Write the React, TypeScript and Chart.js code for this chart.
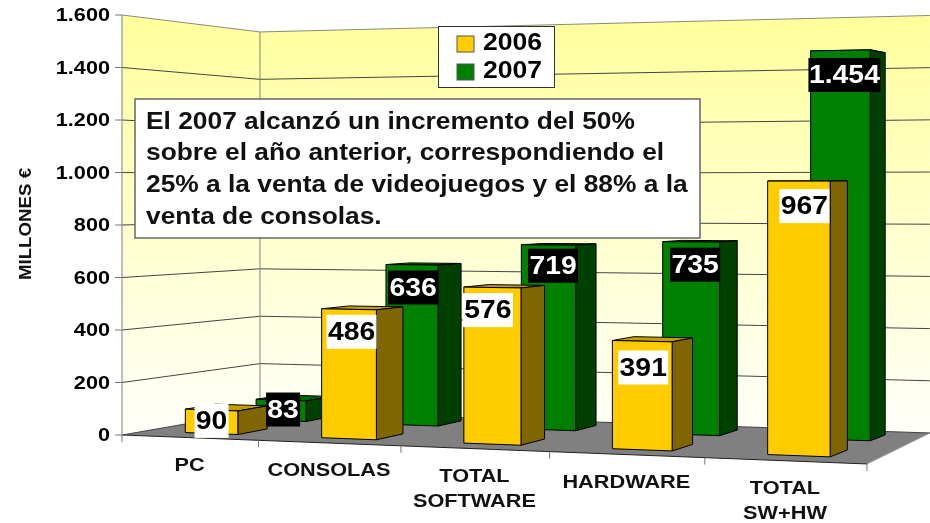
import React, { useEffect, useRef } from "react";
import { Chart, registerables } from "chart.js";

Chart.register(...registerables);

const categories: (string | string[])[] = ["PC", "CONSOLAS", ["TOTAL", "SOFTWARE"], "HARDWARE", ["TOTAL", "SW+HW"]];
const values2006 = [90, 486, 576, 391, 967];
const values2007 = [83, 636, 719, 735, 1454];
const seriesNames = ["2006", "2007"];
const axisTitle = "MILLONES €";
const noteLines = [
  "El 2007 alcanzó un incremento del 50%",
  "sobre el año anterior, correspondiendo el",
  "25% a la venta de videojuegos y el 88% a la",
  "venta de consolas.",
];
const FONT = '"Liberation Sans"';

// Hand-placed nudges of the value labels, per series then per category
const labelNudgeX = [[-1, 1.5, -5.5, 0, 4.5], [1, 0, 3.5, 3, 3]];
const labelNudgeY = [[0, 0, 0, 4, 2], [0, 0, -2, 0, 1]];

// Perspective of the floor (unit square -> screen)
const G = -0.1372, H = 0.1248;
const AX = 626, BX = 170.4, CX = 122;
const AY = -34.7, BY = 27.3, CY = 435;
const warp = (u: number) => u + 0.04 * u * (1 - u);
function project(u: number, d: number, h = 0) {
  const uu = warp(u);
  const w = 1 + G * uu + H * d;
  const x = (AX * uu + BX * d + CX) / w;
  const y = (AY * uu + BY * d + CY) / w;
  return { x, y: y - h / (1 - 0.102 * u + 0.108 * d) };
}
function projectBar(u: number, d: number, h = 0) {
  const p = project(u, d, h);
  return { x: p.x + 9 * u * u * u * (d + 0.1), y: p.y };
}

const fmt = (v: number) => String(v).replace(/\B(?=(\d{3})+(?!\d))/g, ".");

function sText(ctx: CanvasRenderingContext2D, t: string, x: number, y: number, size: number, sx: number, align: CanvasTextAlign, color = "#000") {
  ctx.save();
  ctx.translate(x, y);
  ctx.scale(sx, 1);
  ctx.font = `bold ${size}px ${FONT}`;
  ctx.textAlign = align;
  ctx.textBaseline = "middle";
  ctx.fillStyle = color;
  ctx.fillText(t, 0, 0);
  ctx.restore();
}

function poly(ctx: CanvasRenderingContext2D, pts: { x: number; y: number }[], fill: string | CanvasGradient | null, stroke: string | null, lw = 1) {
  ctx.beginPath();
  pts.forEach((p, i) => (i ? ctx.lineTo(p.x, p.y) : ctx.moveTo(p.x, p.y)));
  ctx.closePath();
  if (fill) { ctx.fillStyle = fill; ctx.fill(); }
  if (stroke) { ctx.strokeStyle = stroke; ctx.lineWidth = lw; ctx.stroke(); }
}

function line(ctx: CanvasRenderingContext2D, pts: { x: number; y: number }[], stroke: string, lw = 1) {
  ctx.beginPath();
  pts.forEach((p, i) => (i ? ctx.lineTo(p.x, p.y) : ctx.moveTo(p.x, p.y)));
  ctx.strokeStyle = stroke;
  ctx.lineWidth = lw;
  ctx.stroke();
}

const faces = [
  { front: "#FFCC00", side: "#806600", top: "#C49D00", d1: 0.15, d2: 0.364 },
  { front: "#008000", side: "#004000", top: "#006600", d1: 0.666, d2: 0.876 },
];

const scene3d = {
  id: "scene3d",
  beforeDatasetsDraw(chart: any) {
    const ctx: CanvasRenderingContext2D = chart.ctx;
    const { left, right, top, bottom } = chart.chartArea;
    const W = right - left;
    const yS = chart.scales.y;
    const uOf = (px: number) => (px - left) / W;
    const full = bottom - top;

    // walls
    const grad = ctx.createLinearGradient(0, top, 0, bottom);
    grad.addColorStop(0, "#FFFF9C");
    grad.addColorStop(0.5, "#FFFFCC");
    grad.addColorStop(1, "#FFFFFA");
    poly(ctx, [project(0, 0), project(0, 1), project(0, 1, full), project(0, 0, full)], grad, null);
    poly(ctx, [project(0, 1), project(1, 1), project(1, 1, full), project(0, 1, full)], grad, null);

    // floor
    poly(ctx, [project(0, 0), project(1, 0), project(1, 1), project(0, 1)], "#808080", null);
    line(ctx, [project(0, 0), project(1, 0)], "#222", 1);
    line(ctx, [project(1, 0), project(1, 1)], "#999", 1);

    // grid lines and value ticks
    yS.ticks.forEach((t: any) => {
      const h = bottom - yS.getPixelForValue(t.value);
      line(ctx, [project(0, 0, h), project(0, 1, h), project(1, 1, h)], h === full ? "#8a8a7a" : "#444", 1);
      const p = project(0, 0, h);
      line(ctx, [{ x: p.x - 7, y: p.y }, p], "#777", 1);
      sText(ctx, fmt(t.value), 110, p.y + 1, 19, 1.14, "right");
    });
    line(ctx, [project(0, 0), project(0, 0, full)], "#808080", 1);
    line(ctx, [project(0, 1), project(0, 1, full)], "#808080", 1);

    // category ticks and labels
    const xS = chart.scales.x;
    categories.forEach((_, i) => {
      const p = project(i / categories.length, 0);
      line(ctx, [p, { x: p.x, y: p.y + 7 }], "#777", 1);
    });
    const pEnd = project(1, 0);
    line(ctx, [pEnd, { x: pEnd.x, y: pEnd.y + 7 }], "#777", 1);
    categories.forEach((label, i) => {
      const c = project(uOf(xS.getPixelForValue(i)), 0);
      const lines = Array.isArray(label) ? label : [label];
      lines.forEach((s, k) => sText(ctx, s, c.x, c.y + 28.5 + k * 25, 17.5, 1.24, "center", "#111"));
    });

    // bars: back series first
    const boxes: any[] = [];
    [1, 0].forEach((ds) => {
      const f = faces[ds];
      chart.getDatasetMeta(ds).data.forEach((el: any, i: number) => {
        const u1 = uOf(el.x - el.width / 2);
        const u2 = uOf(el.x + el.width / 2);
        const h = el.base - el.y;
        const lb = projectBar(u1, f.d1), rb = projectBar(u2, f.d1);
        const lt = projectBar(u1, f.d1, h), rt = projectBar(u2, f.d1, h);
        const rbB = projectBar(u2, f.d2), rtB = projectBar(u2, f.d2, h), ltB = projectBar(u1, f.d2, h);
        poly(ctx, [lt, ltB, rtB, rt], f.top, "#000", 1);
        poly(ctx, [rb, rbB, rtB, rt], f.side, "#000", 1);
        poly(ctx, [lb, rb, rt, lt], f.front, "#000", 1);
        const value = chart.data.datasets[ds].data[i];
        boxes.push({
          ds,
          value,
          cx: (lt.x + rt.x) / 2 + 1 + labelNudgeX[ds][i],
          cy: Math.min(lt.y + 23, (lt.y + lb.y) / 2) + labelNudgeY[ds][i],
        });
      });
    });

    // value labels
    boxes.forEach((b) => {
      const s = fmt(b.value);
      const bw = s.length > 3 ? 72 : s.length === 3 ? 50 : 34;
      ctx.fillStyle = b.ds === 0 ? "#FFFFFF" : "#000000";
      ctx.fillRect(b.cx - bw / 2, b.cy - 17, bw, 34);
      sText(ctx, s, b.cx, b.cy + 1, 26, 1.09, "center", b.ds === 0 ? "#000" : "#FFF");
    });

    // legend
    ctx.fillStyle = "#FFF";
    ctx.fillRect(438.5, 26.5, 116, 61);
    ctx.strokeStyle = "#333";
    ctx.lineWidth = 1;
    ctx.strokeRect(438.5, 26.5, 116, 61);
    seriesNames.forEach((n, i) => {
      const y = 36 + i * 28;
      ctx.fillStyle = faces[i].front;
      ctx.fillRect(457, y, 17, 16);
      ctx.strokeStyle = "#555";
      ctx.strokeRect(457, y, 17, 16);
      sText(ctx, n, 483, 43.5 + i * 28.5, 23.5, 1.13, "left", "#000");
    });

    // note box
    ctx.fillStyle = "#FFF";
    ctx.fillRect(135, 99, 565, 139);
    ctx.strokeStyle = "#666";
    ctx.lineWidth = 1.5;
    ctx.strokeRect(135, 99, 565, 139);
    noteLines.forEach((t, i) => sText(ctx, t, 146, 122 + i * 31.7, 24.5, 1.075, "left", "#111"));

    // axis title
    ctx.save();
    ctx.translate(26, 224);
    ctx.rotate(-Math.PI / 2);
    sText(ctx, axisTitle, 0, 0, 17, 1.1, "center", "#111");
    ctx.restore();

    return false;
  },
};

export default function App() {
  const ref = useRef<HTMLCanvasElement>(null);
  useEffect(() => {
    document.body.style.margin = "0";
    const chart = new Chart(ref.current!, {
      type: "bar",
      data: {
        labels: categories as any,
        datasets: [
          { label: seriesNames[0], data: values2006, backgroundColor: faces[0].front },
          { label: seriesNames[1], data: values2007, backgroundColor: faces[1].front },
        ],
      },
      plugins: [scene3d as any],
      options: {
        animation: false,
        responsive: false,
        devicePixelRatio: 1,
        layout: { padding: { left: 122, right: 63, top: 15, bottom: 88 } },
        datasets: { bar: { grouped: false, categoryPercentage: 1, barPercentage: 0.39 } } as any,
        plugins: { legend: { display: false }, tooltip: { enabled: false } },
        scales: {
          x: { display: false, type: "category" },
          y: { display: false, min: 0, max: 1600, ticks: { stepSize: 200 } },
        },
      },
    });
    return () => chart.destroy();
  }, []);
  return <canvas ref={ref} width={930} height={523} style={{ display: "block", background: "#fff" }} />;
}
